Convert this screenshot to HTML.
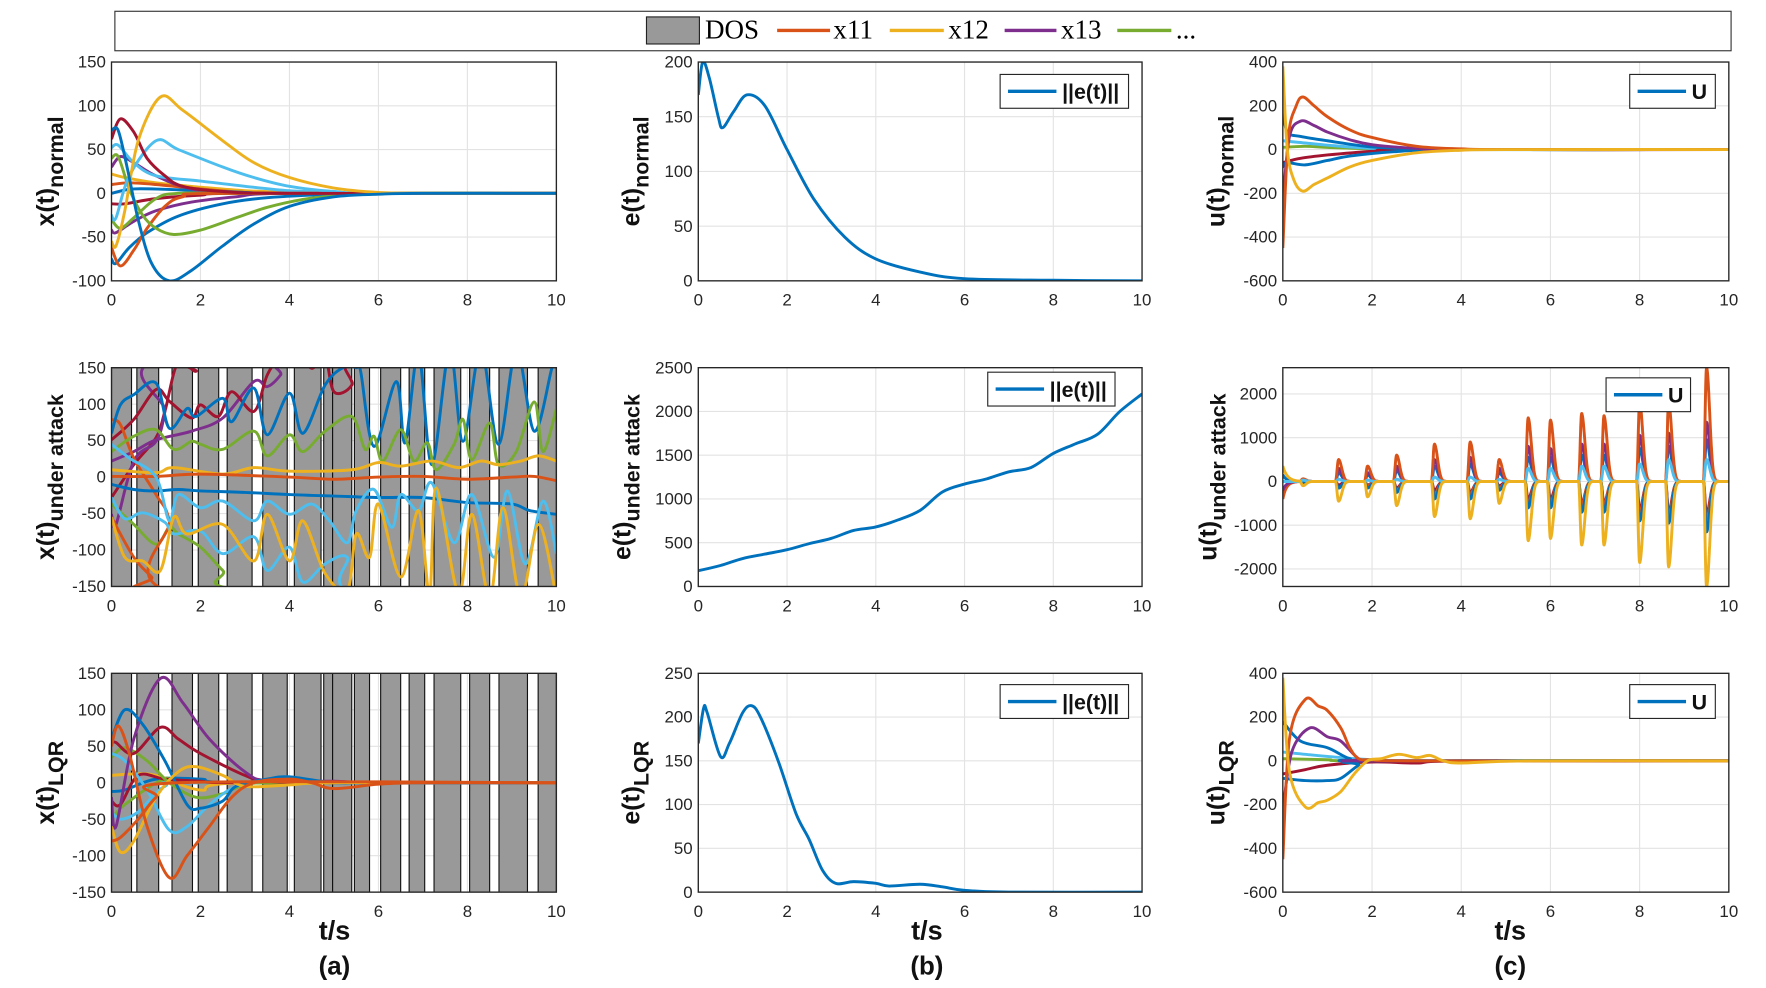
<!DOCTYPE html>
<html><head><meta charset="utf-8">
<style>
html,body{margin:0;padding:0;background:#fff;}
svg{display:block;}
text{font-family:"Liberation Sans",Arial,sans-serif;}
</style></head>
<body>
<svg id="fig" width="1766" height="988" viewBox="0 0 1568 876" preserveAspectRatio="none" xmlns="http://www.w3.org/2000/svg">
<g>
<rect x="102" y="10" width="1435" height="35" fill="#fff" stroke="#333" stroke-width="1"/>
<rect x="574" y="15" width="47" height="24" fill="#999" stroke="#222" stroke-width="1"/>
<text x="626" y="34" font-size="24" style="font-family:'Liberation Serif',serif">DOS</text>
<line x1="690" y1="27" x2="737" y2="27" stroke="#D95319" stroke-width="3"/>
<text x="740" y="34" font-size="24" style="font-family:'Liberation Serif',serif">x11</text>
<line x1="790" y1="27" x2="838" y2="27" stroke="#EDB120" stroke-width="3"/>
<text x="842" y="34" font-size="24" style="font-family:'Liberation Serif',serif">x12</text>
<line x1="892" y1="27" x2="938" y2="27" stroke="#7E2F8E" stroke-width="3"/>
<text x="942" y="34" font-size="24" style="font-family:'Liberation Serif',serif">x13</text>
<line x1="992" y1="27" x2="1040" y2="27" stroke="#77AC30" stroke-width="3"/>
<text x="1044" y="34" font-size="24" style="font-family:'Liberation Serif',serif">...</text>
</g>
</svg>
<script>
// ---------- DATA ----------
const dosStart = [0,0.57,1.36,1.95,2.6,3.4,4.11,4.77,4.97,5.46,6.05,6.69,7.25,8.05,8.71,9.59];
const dosEnd   = [0.45,1.06,1.82,2.41,3.16,3.95,4.71,4.97,5.4,5.8,6.5,7.04,7.85,8.5,9.35,10];

// Row 1 col 1 : x(t) normal
const xnYellow1 = [[0,-55],[0.1,-60],[0.3,-20],[0.6,60],[1.1,110],[1.6,95],[2.5,60],[3.2,35],[4,18],[5,6],[6,1],[7,0],[10,0]];
const xnYellow2 = [[0,22],[0.3,18],[1,12],[2,7],[3,3],[4,1],[5,0],[10,0]];
const xnLBlue1 = [[0,-25],[0.1,-28],[0.4,20],[1.0,60],[1.5,50],[2.5,30],[3.2,18],[4,8],[5,2],[6,0],[10,0]];
const xnLBlue2 = [[0,52],[0.15,55],[0.5,35],[1.0,20],[2,14],[3,8],[4,3],[5,1],[6,0],[10,0]];
const xnRed1 = [[0,62],[0.2,85],[0.5,70],[0.8,40],[1.2,20],[1.6,8],[2.5,2],[4,0],[10,0]];
const xnRed2 = [[0,-12],[0.3,-12],[1,-6],[2,-2],[3,0],[10,0]];
const xnBlue1 = [[0,72],[0.15,72],[0.35,30],[0.6,-30],[0.9,-80],[1.3,-100],[1.8,-88],[2.5,-60],[3.2,-35],[4,-15],[5,-4],[6,-1],[7,0],[10,0]];
const xnBlue2 = [[0,-75],[0.1,-80],[0.4,-62],[0.8,-45],[1.5,-26],[2.5,-12],[3.5,-5],[5,-1],[6,0],[10,0]];
const xnBlue3 = [[0,0],[0.5,5],[1.5,4],[3,1],[4,0],[10,0]];
const xnOrange1 = [[0,-62],[0.2,-83],[0.5,-65],[0.8,-40],[1.2,-15],[1.6,-4],[2.5,0],[10,0]];
const xnOrange2 = [[0,10],[0.4,12],[1,10],[2,5],[3,1],[4,0],[10,0]];
const xnGreen1 = [[0,40],[0.15,42],[0.4,5],[0.7,-25],[1.0,-40],[1.4,-47],[2,-42],[2.8,-28],[3.5,-16],[4.3,-7],[5,-3],[6,0],[10,0]];
const xnGreen2 = [[0,-30],[0.2,-40],[0.5,-28],[1,-6],[1.5,0],[3,0],[10,0]];
const xnPurple1 = [[0,30],[0.2,42],[0.5,35],[1,20],[1.8,5],[3,0],[10,0]];
const xnPurple2 = [[0,-42],[0.1,-45],[0.5,-32],[1,-20],[1.8,-10],[2.8,-4],[4,0],[10,0]];

// Row 1 col 2 : e normal
const enT = [0,0.1,0.25,0.45,0.55,0.8,1.1,1.5,2,2.6,3.3,4,5,6,8,10];
const enV = [170,200,185,150,140,155,170,160,120,75,40,20,8,2,0.5,0];

// Row 1 col 3 : u normal
const unOrange = [[0,-450],[0.12,50],[0.3,200],[0.45,240],[0.7,200],[1,150],[1.5,90],[2,55],[3,15],[4,3],[5,0],[10,0]];
const unYellow = [[0,380],[0.1,0],[0.25,-140],[0.45,-190],[0.7,-160],[1,-130],[1.5,-80],[2,-50],[3,-15],[4,-3],[5,0],[10,0]];
const unPurple = [[0,-240],[0.15,60],[0.4,130],[0.7,110],[1,80],[1.5,45],[2,22],[3,5],[4,0],[10,0]];
const unBlue1 = [[0,180],[0.1,80],[0.4,60],[1,40],[2,12],[3,3],[4,0],[10,0]];
const unBlue2 = [[0,-80],[0.1,-60],[0.5,-70],[1,-50],[1.5,-30],[2.5,-10],[4,0],[10,0]];
const unRed = [[0,-60],[0.4,-40],[1,-25],[2,-8],[3,0],[10,0]];
const unGreen = [[0,10],[0.5,15],[1,10],[2,3],[3,0],[10,0]];
const unLBlue = [[0,40],[0.5,30],[1,20],[2,5],[3,0],[10,0]];

// Row 2 col 1 : x under attack
const xaBlueUp = [[0,60],[0.2,99],[0.5,113],[1,129],[1.3,67],[1.7,94],[1.9,83],[2.5,108],[2.7,76],[3.2,122],[3.5,58],[4,115],[4.3,60],[4.8,126],[5.2,150],[5.5,150],[5.6,145],[5.9,42],[6.4,131],[6.6,47],[6.9,170],[7.2,17],[7.6,175],[7.9,49],[8.3,175],[8.7,45],[9.1,175],[9.5,63],[9.9,150],[10,160]];
const xaRedUp = [[0,51],[0.5,79],[1,120],[1.3,104],[1.8,81],[2,99],[2.4,83],[2.7,117],[3.2,90],[3.5,140],[3.8,165],[4.2,170],[4.5,149],[4.8,165],[5.0,117],[5.4,126],[5.6,170],[10,170]];
const xaRedLow = [[0,-28],[0.5,17],[1,54],[1.2,90],[1.5,158],[1.9,145],[2.1,170],[10,170]];
const xaPurpleLow = [[0,-51],[0.1,-65],[0.5,22],[1,49],[1.2,90],[1.35,165],[10,170]];
const xaPurpleUp = [[0,22],[0.5,35],[1,51],[1.8,63],[2.5,81],[3.2,131],[3.5,124],[3.8,140],[4.1,170],[10,170]];
const xaGreenUp = [[0,35],[0.5,56],[1,65],[1.4,38],[1.8,49],[2,45],[2.5,38],[3.2,63],[3.5,29],[4,58],[4.3,35],[4.8,63],[5.4,83],[5.7,38],[5.9,56],[6.1,22],[6.5,65],[6.8,22],[7.1,47],[7.3,10],[7.7,45],[7.9,79],[8.1,24],[8.5,74],[8.7,17],[9.1,35],[9.5,103],[9.7,35],[10,94]];
const xaGreenLow = [[0,-37],[0.5,-65],[1,-92],[1.3,-69],[1.5,-78],[2,-96],[2.5,-128],[3,-155],[10,-170]];
const xaYellowUp = [[0,10],[1,6],[1.4,13],[2.5,4],[3.2,13],[4,8],[5.4,10],[6,20],[6.5,15],[7.2,22],[7.8,13],[8.3,22],[8.7,17],[9.2,22],[9.6,29],[10,22]];
const xaOrangeMid = [[0,1],[1,1],[2,4],[4,0],[5,-3],[6,0],[7,1],[8,-3],[9,0],[9.5,1],[10,-5]];
const xaBlueMid = [[0,-10],[0.5,-17],[1,-19],[1.5,-17],[2,-19],[3,-21],[4,-24],[5,-26],[6,-28],[7,-28],[8,-35],[9,-37],[9.4,-46],[10,-51]];
const xaOrangeBig = [[0,79],[0.2,72],[0.5,26],[1,-24],[1.3,-60],[1.5,-160],[10,-170]];
const xaOrangeLow = [[0,-55],[0.5,-110],[0.9,-137],[1.2,-160],[10,-170]];
const xaLBlue1 = [[0,45],[0.4,26],[1,0],[1.3,-60],[1.5,-24],[2,-42],[2.5,-33],[3.2,-60],[3.5,-33],[4,-51],[4.5,-37],[4.9,-60],[5.3,-90],[5.5,-46],[5.9,-17],[6.3,-69],[6.5,-24],[6.9,-46],[7.2,-8],[7.7,-90],[8.1,-24],[8.6,-110],[8.9,-19],[9.3,-119],[9.7,-33],[10,-105]];
const xaLBlue2 = [[0,-28],[0.3,-57],[0.7,-49],[1.2,-62],[1.4,-78],[2,-74],[2.5,-105],[3.2,-82],[3.5,-128],[4,-96],[4.3,-144],[4.8,-119],[5.3,-110],[5.5,-160],[10,-170]];
const xaYellowLow = [[0,-55],[0.3,-110],[0.7,-115],[1.1,-128],[1.4,-55],[1.7,-78],[2.5,-65],[3.2,-115],[3.5,-51],[4,-115],[4.3,-60],[4.8,-132],[5.3,-155],[5.5,-78],[5.8,-110],[6,-37],[6.5,-137],[6.9,-46],[7.15,-160],[7.3,-15],[7.8,-160],[8.1,-51],[8.5,-165],[8.8,-42],[9.2,-165],[9.6,-65],[10,-165]];

// Row 2 col 2 : e under attack
const eaT = [0,0.5,1,1.5,2,2.5,3,3.5,4,4.5,5,5.5,6,6.5,7,7.5,8,8.5,9,9.5,10];
const eaV = [180,240,320,370,420,490,550,640,680,760,870,1080,1170,1230,1310,1360,1520,1630,1740,2000,2200];

// Row 2 col 3 : u under attack (spike events)
const uaT = [0.45,1.25,1.9,2.55,3.4,4.2,4.85,5.5,6.0,6.7,7.2,8.0,8.65,9.5];
const uaOrange = [60,500,350,600,850,900,500,1450,1400,1550,1500,1800,1800,2600];
const uaPurple = [40,300,200,350,500,550,300,800,750,850,850,1050,1100,1350];
const uaBlueUp = [30,200,150,250,350,400,200,550,550,600,600,750,800,950];
const uaYellowUp = [30,50,30,50,100,100,50,300,300,350,350,400,500,500];
const uaRed = [-20,-80,-80,-150,-200,-250,-100,-400,-400,-500,-500,-650,-700,-750];
const uaOrangeNeg = [-30,-150,-100,-200,-300,-300,-150,-500,-500,-550,-550,-750,-800,-900];
const uaBlueDown = [-30,-150,-150,-250,-400,-400,-200,-600,-600,-700,-700,-900,-950,-1150];
const uaYellow = [-100,-450,-350,-550,-800,-850,-500,-1350,-1300,-1450,-1450,-1850,-1950,-2400];

// Row 3 col 1 : x LQR
const xlPurple = [[0,-20],[0.1,-60],[0.5,60],[1.1,143],[1.6,110],[2.2,60],[3,15],[3.5,3],[5,2],[6,0],[10,0]];
const xlBlue = [[0,60],[0.3,100],[0.7,80],[1.2,30],[1.7,-30],[2,-35],[2.5,-25],[2.8,-5],[3.5,5],[4,8],[5,0],[6,0],[10,0]];
const xlRed1 = [[0,55],[0.1,55],[0.5,40],[1.1,76],[1.5,60],[2,40],[3,10],[3.5,2],[5,0],[10,0]];
const xlRed2 = [[0,-25],[0.2,-30],[0.6,10],[1.2,5],[2,2],[3,0],[10,0]];
const xlOrange1 = [[0,50],[0.15,78],[0.4,40],[0.8,-60],[1.3,-130],[1.7,-100],[2.2,-60],[2.7,-20],[3.2,0],[4,5],[4.5,0],[5,-8],[6,-2],[7,0],[10,0]];
const xlOrange2 = [[0,-80],[0.2,-75],[0.6,-50],[1,-20],[1.5,0],[10,0]];
const xlYellow1 = [[0,-60],[0.2,-95],[0.5,-80],[1,-20],[1.5,15],[1.9,22],[2.5,10],[3,-5],[4,-3],[5,0],[10,0]];
const xlYellow2 = [[0,10],[0.5,12],[1,10],[2,-10],[3,0],[10,0]];
const xlLBlue1 = [[0,40],[0.3,30],[0.8,-10],[1.3,-65],[1.7,-60],[2.2,-30],[2.8,-5],[3.5,3],[4,8],[5,0],[10,0]];
const xlLBlue2 = [[0,-40],[0.2,-50],[0.6,-40],[1.2,-5],[2,0],[10,0]];
const xlGreen1 = [[0,35],[0.3,48],[0.8,30],[1.3,0],[1.9,-20],[2.5,-15],[3,-3],[4,0],[10,0]];
const xlGreen2 = [[0,-50],[0.3,-30],[1.2,5],[2,0],[10,0]];
const xlBlue2 = [[0,-12],[0.3,-10],[1,5],[2,5],[3,0],[10,0]];

// Row 3 col 2 : e LQR
const elT = [0,0.12,0.2,0.5,0.7,1,1.2,1.4,1.8,2.2,2.5,2.8,3.1,3.5,4,4.3,5,5.5,6,7,10];
const elV = [170,210,205,155,170,205,213,200,150,90,60,25,10,12,10,7,9,6,2,0,0];

// Row 3 col 3 : u LQR
const ulOrange = [[0,-450],[0.15,100],[0.5,280],[0.8,250],[1,230],[1.3,150],[1.5,60],[1.7,10],[2,5],[3,0],[10,0]];
const ulYellow = [[0,380],[0.15,-50],[0.5,-210],[0.8,-190],[1,-180],[1.3,-140],[1.6,-60],[1.9,0],[2.2,10],[2.6,30],[3,15],[3.3,25],[3.6,0],[4,-10],[5.5,0],[10,0]];
const ulPurple = [[0,-230],[0.2,40],[0.6,150],[1,110],[1.3,90],[1.7,10],[2,0],[10,0]];
const ulBlue1 = [[0,180],[0.4,90],[1,60],[1.5,10],[2,0],[10,0]];
const ulBlue2 = [[0,-80],[0.5,-90],[1,-90],[1.3,-80],[1.7,-20],[2,0],[10,0]];
const ulRed = [[0,-60],[0.5,-40],[1,-20],[2,-5],[3,-10],[4,0],[10,0]];
const ulLBlue = [[0,40],[0.5,30],[1,20],[2,5],[3,0],[10,0]];
const ulGreen = [[0,10],[1,5],[2,0],[10,0]];

// ---------- DRAWING ----------
const C = {blue:'#0072BD',orange:'#D95319',yellow:'#EDB120',purple:'#7E2F8E',green:'#77AC30',lblue:'#4DBEEE',red:'#A2142F'};
const NS = 'http://www.w3.org/2000/svg';
const svg = document.getElementById('fig');
const colsX = [[99,494],[620,1014],[1139,1535]];
const rowsY = [[55,249],[326,520],[597,791]];
let clipN = 0;
function mk(tag, attrs, parent){
  const e = document.createElementNS(NS, tag);
  for (const k in attrs) e.setAttribute(k, attrs[k]);
  (parent||svg).appendChild(e);
  return e;
}
function makeAxes(r, c, ymin, ymax, yticks, name){
  const [x0,x1] = colsX[c], [y0,y1] = rowsY[r];
  const sx = t => x0 + (t-0)/(10-0)*(x1-x0);
  const sy = v => y1 - (v-ymin)/(ymax-ymin)*(y1-y0);
  const g = mk('g', {});
  
  
  const id = 'clip'+(clipN++);
  const cp = mk('clipPath', {id}, g);
  mk('rect', {x:x0,y:y0,width:x1-x0,height:y1-y0}, cp);
  mk('rect', {x:x0,y:y0,width:x1-x0,height:y1-y0,fill:'#fff'}, g);
  for (let t=0;t<=10;t+=2){
    const gl = mk('line', {x1:sx(t),x2:sx(t),y1:y0,y2:y1,stroke:'#e3e3e3','stroke-width':1}, g);
    
    
    const tl = mk('text', {x:sx(t),y:y1+22,'text-anchor':'middle','font-size':15,fill:'#262626'}, g);
    tl.textContent = t;
    
    
  }
  yticks.forEach(v => {
    const gl = mk('line', {x1:x0,x2:x1,y1:sy(v),y2:sy(v),stroke:'#e3e3e3','stroke-width':1}, g);
    
    
    const tl = mk('text', {x:x0-5,y:sy(v)+5,'text-anchor':'end','font-size':15,fill:'#262626'}, g);
    tl.textContent = v;
    
    
  });
  const plot = mk('g', {'clip-path':'url(#'+id+')'}, g);
  return {g, plot, sx, sy, x0, x1, y0, y1};
}
function finishAxes(a){
  const b = mk('rect', {x:a.x0,y:a.y0,width:a.x1-a.x0,height:a.y1-a.y0,fill:'none',stroke:'#262626','stroke-width':1.2}, a.g);
  
  
}
function dos(a){
  for (let i=0;i<dosStart.length;i++){
    const r = mk('rect', {x:a.sx(dosStart[i]), y:a.y0, width:a.sx(dosEnd[i])-a.sx(dosStart[i]), height:a.y1-a.y0, fill:'#999', stroke:'#111','stroke-width':1}, a.plot);
    
    
  }
}
function spline(a, pts){
  const P = pts.map(p => [a.sx(p[0]), a.sy(p[1])]);
  let d = 'M'+P[0][0].toFixed(1)+','+P[0][1].toFixed(1);
  for (let i=0;i<P.length-1;i++){
    const p0 = P[i-1]||P[i], p1 = P[i], p2 = P[i+1], p3 = P[i+2]||P[i+1];
    const c1 = [p1[0]+(p2[0]-p0[0])/6, p1[1]+(p2[1]-p0[1])/6];
    const c2 = [p2[0]-(p3[0]-p1[0])/6, p2[1]-(p3[1]-p1[1])/6];
    d += 'C'+c1[0].toFixed(1)+','+c1[1].toFixed(1)+' '+c2[0].toFixed(1)+','+c2[1].toFixed(1)+' '+p2[0].toFixed(1)+','+p2[1].toFixed(1);
  }
  return d;
}
function line(a, pts, color, name){
  const p = mk('path', {d:spline(a, pts), fill:'none', stroke:color, 'stroke-width':2.6, 'stroke-linejoin':'round'}, a.plot);
  
  
}
function zip(ts, vs){ return ts.map((t,i)=>[t, vs[i]]); }
function yLabel(x, y, main, sub, name){
  const t = mk('text', {transform:'translate('+x+','+y+') rotate(-90)','text-anchor':'middle','font-size':22,'font-weight':'bold',fill:'#111'});
  
  
  const a = mk('tspan', {}, t); a.textContent = main;
  const b = mk('tspan', {dy:8,'font-size':19}, t); b.textContent = sub;
}
function legendBox(x, y, w, label, name){
  const g = mk('g', {});
  
  
  mk('rect', {x, y, width:w, height:30, fill:'#fff', stroke:'#262626','stroke-width':1}, g);
  mk('line', {x1:x+7, x2:x+50, y1:y+15, y2:y+15, stroke:C.blue, 'stroke-width':3}, g);
  const t = mk('text', {x:x+55, y:y+22, 'font-size':19, 'font-weight':'bold', fill:'#111'}, g);
  t.textContent = label;
}
function spikes(base, amps, rise, tau){
  const pts = [];
  for (let k=0;k<=1000;k++){
    const t = k/100;
    let v = 0;
    for (let i=0;i<uaT.length;i++){
      const d = t - uaT[i];
      if (d < -rise) continue;
      v += amps[i] * (d < 0 ? 0.5*(1+Math.cos(Math.PI*d/rise)) : Math.exp(-d*d/(2*tau*tau)));
    }
    pts.push([t, v + base(t)]);
  }
  return pts;
}

// R1C1
let a = makeAxes(0,0,-100,150,[-100,-50,0,50,100,150],'x-normal-chart');
[[xnYellow2,C.yellow],[xnOrange2,C.orange],[xnBlue3,C.blue],[xnRed2,C.red],[xnPurple2,C.purple],[xnPurple1,C.purple],[xnGreen2,C.green],[xnLBlue2,C.lblue],[xnBlue2,C.blue],[xnOrange1,C.orange],[xnGreen1,C.green],[xnLBlue1,C.lblue],[xnRed1,C.red],[xnYellow1,C.yellow],[xnBlue1,C.blue]].forEach((s,i)=>line(a,s[0],s[1],'x-normal-series-'+i));
finishAxes(a);
// R1C2
a = makeAxes(0,1,0,200,[0,50,100,150,200],'e-normal-chart');
line(a, zip(enT,enV), C.blue, 'e-normal-line');
finishAxes(a);
legendBox(888,66,114,'||e(t)||','e-normal-legend');
// R1C3
a = makeAxes(0,2,-600,400,[-600,-400,-200,0,200,400],'u-normal-chart');
[[unGreen,C.green],[unLBlue,C.lblue],[unRed,C.red],[unBlue2,C.blue],[unBlue1,C.blue],[unPurple,C.purple],[unOrange,C.orange],[unYellow,C.yellow]].forEach((s,i)=>line(a,s[0],s[1],'u-normal-series-'+i));
finishAxes(a);
legendBox(1447,66,76,'U','u-normal-legend');

// R2C1
a = makeAxes(1,0,-150,150,[-150,-100,-50,0,50,100,150],'x-attack-chart');
dos(a);
[[xaRedLow,C.red],[xaPurpleLow,C.purple],[xaPurpleUp,C.purple],[xaRedUp,C.red],[xaGreenLow,C.green],[xaOrangeLow,C.orange],[xaOrangeBig,C.orange],[xaLBlue2,C.lblue],[xaBlueUp,C.blue],[xaGreenUp,C.green],[xaYellowUp,C.yellow],[xaOrangeMid,C.orange],[xaBlueMid,C.blue],[xaLBlue1,C.lblue],[xaYellowLow,C.yellow]].forEach((s,i)=>line(a,s[0],s[1],'x-attack-series-'+i));
finishAxes(a);
// R2C2
a = makeAxes(1,1,0,2500,[0,500,1000,1500,2000,2500],'e-attack-chart');
line(a, zip(eaT,eaV), C.blue, 'e-attack-line');
finishAxes(a);
legendBox(877,330,113,'||e(t)||','e-attack-legend');
// R2C3
a = makeAxes(1,2,-2400,2600,[-2000,-1000,0,1000,2000],'u-attack-chart');
const zero = t => 0;
[[uaRed,C.red,zero],[uaOrangeNeg,C.orange,t=>-400*Math.exp(-t/0.08)],[uaBlueDown,C.blue,zero],[uaBlueUp,C.blue,t=>150*Math.exp(-t/0.08)],[uaPurple,C.purple,t=>-200*Math.exp(-t/0.08)],[uaOrange,C.orange,zero],[uaYellowUp,C.lblue,zero],[uaYellow,C.yellow,t=>350*Math.exp(-t/0.1)]].forEach((s,i)=>line(a, spikes(s[2], s[0], 0.07, 0.07), s[1], 'u-attack-series-'+i));
finishAxes(a);
legendBox(1426,335,75,'U','u-attack-legend');

// R3C1
a = makeAxes(2,0,-150,150,[-150,-100,-50,0,50,100,150],'x-lqr-chart');
dos(a);
[[xlBlue2,C.blue],[xlGreen2,C.green],[xlLBlue2,C.lblue],[xlYellow2,C.yellow],[xlRed2,C.red],[xlGreen1,C.green],[xlLBlue1,C.lblue],[xlRed1,C.red],[xlPurple,C.purple],[xlBlue,C.blue],[xlYellow1,C.yellow],[xlOrange2,C.orange],[xlOrange1,C.orange]].forEach((s,i)=>line(a,s[0],s[1],'x-lqr-series-'+i));
finishAxes(a);
// R3C2
a = makeAxes(2,1,0,250,[0,50,100,150,200,250],'e-lqr-chart');
line(a, zip(elT,elV), C.blue, 'e-lqr-line');
finishAxes(a);
legendBox(888,607,114,'||e(t)||','e-lqr-legend');
// R3C3
a = makeAxes(2,2,-600,400,[-600,-400,-200,0,200,400],'u-lqr-chart');
[[ulGreen,C.green],[ulLBlue,C.lblue],[ulRed,C.red],[ulBlue2,C.blue],[ulBlue1,C.blue],[ulPurple,C.purple],[ulOrange,C.orange],[ulYellow,C.yellow]].forEach((s,i)=>line(a,s[0],s[1],'u-lqr-series-'+i));
finishAxes(a);
legendBox(1447,607,76,'U','u-lqr-legend');

// Y labels
yLabel(48,152,'x(t)','normal','y-label-x-normal');
yLabel(48,423,'x(t)','under attack','y-label-x-attack');
yLabel(48,694,'x(t)','LQR','y-label-x-lqr');
yLabel(568,152,'e(t)','normal','y-label-e-normal');
yLabel(560,423,'e(t)','under attack','y-label-e-attack');
yLabel(568,694,'e(t)','LQR','y-label-e-lqr');
yLabel(1087,152,'u(t)','normal','y-label-u-normal');
yLabel(1080,423,'u(t)','under attack','y-label-u-attack');
yLabel(1087,694,'u(t)','LQR','y-label-u-lqr');

// bottom labels
[[297,'(a)'],[823,'(b)'],[1341,'(c)']].forEach((p,i)=>{
  const t = mk('text', {x:p[0], y:833, 'text-anchor':'middle','font-size':24,'font-weight':'bold',fill:'#111'});
  t.textContent = 't/s';
  
  
  const s = mk('text', {x:p[0], y:864, 'text-anchor':'middle','font-size':23,'font-weight':'bold',fill:'#111'});
  s.textContent = p[1];
  
  
});
</script>
</body></html>
